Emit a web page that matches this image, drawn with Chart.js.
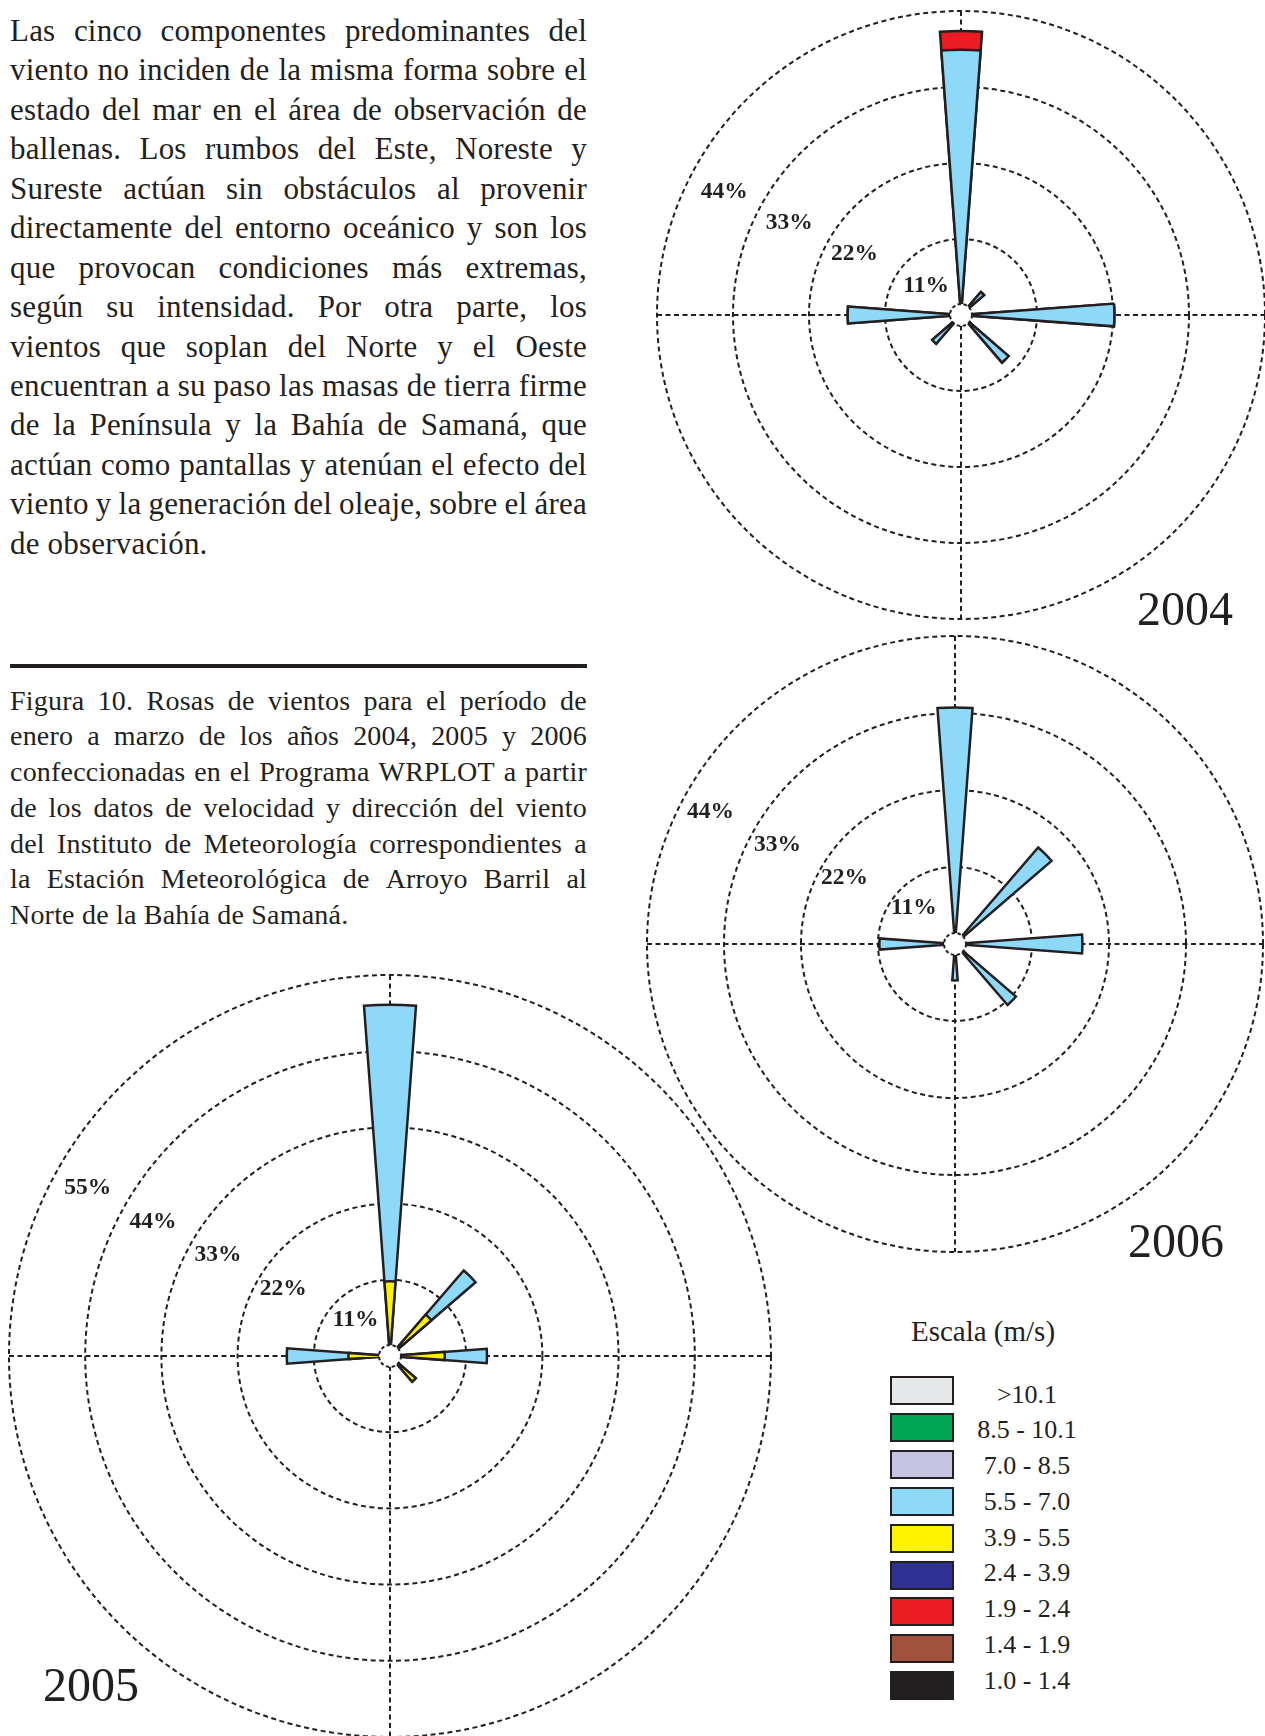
<!DOCTYPE html>
<html lang="es">
<head>
<meta charset="utf-8">
<title>Rosas de vientos 2004 - 2006</title>
<script src="https://cdn.jsdelivr.net/npm/chart.js@4.4.1/dist/chart.umd.min.js"></script>
<style>
  html, body { margin: 0; padding: 0; background: #fff; }
  body {
    position: relative; width: 1265px; height: 1736px; overflow: hidden;
    font-family: 'Liberation Serif', serif; color: #231f20;
  }
  .block { position: absolute; left: 10px; width: 577px; }
  .line { display: flex; justify-content: space-between; white-space: nowrap; }
  .body { top: 11px; font-size: 31px; letter-spacing: 0.2px; }
  .body .line, .body .last { height: 39.45px; line-height: 39.45px; }
  .caption { top: 682.5px; font-size: 28px; letter-spacing: 0.2px; }
  .caption .line, .caption .last { height: 35.8px; line-height: 35.8px; }
  .rule { position: absolute; left: 10px; top: 664px; width: 577px; height: 4px; background: #231f20; }
  canvas { position: absolute; }
  .year { position: absolute; font-size: 48px; line-height: 48px; white-space: nowrap; }
  .legend-title { position: absolute; left: 883px; width: 200px; top: 1317px; text-align: center;
                  font-size: 29px; line-height: 29px; }
  .swatch { position: absolute; left: 890px; width: 64px; height: 29px; box-sizing: border-box;
            border: 2px solid #231f20; }
  .swatch-label { position: absolute; left: 947px; width: 160px; text-align: center;
                  font-size: 26px; line-height: 26px; white-space: nowrap; }
</style>
</head>
<body>

<div class="block body" id="bodyText"></div>
<div class="rule"></div>
<div class="block caption" id="captionText"></div>

<canvas id="rose2004" width="620" height="620" style="left:651px; top:5px;"></canvas>
<canvas id="rose2006" width="628" height="628" style="left:641px; top:630px;"></canvas>
<canvas id="rose2005" width="774" height="774" style="left:3px; top:969px;"></canvas>

<div class="year" style="left:1137px; top:585px;">2004</div>
<div class="year" style="left:1128px; top:1217px;">2006</div>
<div class="year" style="left:43px; top:1661px;">2005</div>

<div class="legend-title">Escala (m/s)</div>
<div id="legend"></div>

<script>
// ---- textos ----
const BODY_LINES = [
  'Las cinco componentes predominantes del',
  'viento no inciden de la misma forma sobre el',
  'estado del mar en el área de observación de',
  'ballenas. Los rumbos del Este, Noreste y',
  'Sureste actúan sin obstáculos al provenir',
  'directamente del entorno oceánico y son los',
  'que provocan condiciones más extremas,',
  'según su intensidad. Por otra parte, los',
  'vientos que soplan del Norte y el Oeste',
  'encuentran a su paso las masas de tierra firme',
  'de la Península y la Bahía de Samaná, que',
  'actúan como pantallas y atenúan el efecto del',
  'viento y la generación del oleaje, sobre el área',
  'de observación.'
];
const CAPTION_LINES = [
  'Figura 10. Rosas de vientos para el período de',
  'enero a marzo de los años 2004, 2005 y 2006',
  'confeccionadas en el Programa WRPLOT a partir',
  'de los datos de velocidad y dirección del viento',
  'del Instituto de Meteorología correspondientes a',
  'la Estación Meteorológica de Arroyo Barril al',
  'Norte de la Bahía de Samaná.'
];

// ---- datos de las rosas ----
const DIRS = ['N', 'NNE', 'NE', 'ENE', 'E', 'ESE', 'SE', 'SSE',
              'S', 'SSW', 'SW', 'WSW', 'W', 'WNW', 'NW', 'NNW'];

const SPEED_CLASSES = ['>10.1', '8.5 - 10.1', '7.0 - 8.5', '5.5 - 7.0', '3.9 - 5.5',
                       '2.4 - 3.9', '1.9 - 2.4', '1.4 - 1.9', '1.0 - 1.4'];
const CLASS_COLORS = ['#e6e7e8', '#00a651', '#c5c3e2', '#8ed8f8', '#fff200',
                      '#2e3192', '#ed1c24', '#a0523d', '#231f20'];

// frecuencia (%) de cada clase por rumbo
const BLUE_2004   = [38.4, 0, 4.4, 0, 22.2, 0, 9.1, 0, 0, 0, 5.5, 0, 16.4, 0, 0, 0];
const RED_2004    = [2.7, 0, 0, 0, 0, 0, 0, 0, 0, 0, 0, 0, 0, 0, 0, 0];
const YELLOW_2005 = [10.8, 0, 7.9, 0, 7.9, 0, 4.9, 0, 0, 0, 0, 0, 6.0, 0, 0, 0];
const BLUE_2005   = [39.9, 0, 8.4, 0, 6.1, 0, 0, 0, 0, 0, 0, 0, 8.9, 0, 0, 0];
const BLUE_2006   = [33.8, 0, 18.2, 0, 18.2, 0, 11.5, 0, 5.2, 0, 0, 0, 10.8, 0, 0, 0];

const RINGS_2004 = [11, 22, 33, 44];
const RINGS_2005 = [11, 22, 33, 44, 55];
const RINGS_2006 = [11, 22, 33, 44];

const INK = '#231f20';
const PETAL = 8.5;          // grados por petalo
const GAP = 22.5 - PETAL;

// ---- texto justificado linea a linea ----
function fillBlock(el, lines) {
  lines.forEach((txt, i) => {
    const div = document.createElement('div');
    if (i === lines.length - 1) {
      div.className = 'last';
      div.textContent = txt;
    } else {
      div.className = 'line';
      txt.split(' ').forEach(w => {
        const s = document.createElement('span');
        s.textContent = w;
        div.appendChild(s);
      });
    }
    el.appendChild(div);
  });
}
fillBlock(document.getElementById('bodyText'), BODY_LINES);
fillBlock(document.getElementById('captionText'), CAPTION_LINES);

// ---- leyenda ----
const legend = document.getElementById('legend');
SPEED_CLASSES.forEach((cls, i) => {
  const box = document.createElement('div');
  box.className = 'swatch';
  box.style.top = (1376 + 36.9 * i) + 'px';
  box.style.background = CLASS_COLORS[i];
  legend.appendChild(box);
  const lab = document.createElement('div');
  lab.className = 'swatch-label';
  lab.style.top = (1381.5 + 35.75 * i) + 'px';
  lab.textContent = cls;
  legend.appendChild(lab);
});

// ---- cruz, hueco central y etiquetas de anillos ----
const roseDecor = {
  id: 'roseDecor',
  beforeDatasetsDraw(chart) {
    const s = chart.scales.r, ctx = chart.ctx;
    const R = s.getDistanceFromCenterForValue(s.max);
    ctx.save();
    ctx.strokeStyle = INK;
    ctx.lineWidth = 2;
    ctx.setLineDash([5, 3.5]);
    ctx.beginPath();
    ctx.moveTo(s.xCenter, s.yCenter - R);
    ctx.lineTo(s.xCenter, s.yCenter + R);
    ctx.moveTo(s.xCenter - R, s.yCenter);
    ctx.lineTo(s.xCenter + R, s.yCenter);
    ctx.stroke();
    ctx.restore();
  },
  afterDatasetsDraw(chart, args, o) {
    const s = chart.scales.r, ctx = chart.ctx;
    ctx.save();
    ctx.beginPath();
    ctx.arc(s.xCenter, s.yCenter, 11, 0, Math.PI * 2);
    ctx.fillStyle = '#fff';
    ctx.fill();
    ctx.setLineDash([3.5, 2.5]);
    ctx.lineWidth = 2;
    ctx.strokeStyle = INK;
    ctx.stroke();

    ctx.setLineDash([]);
    ctx.font = 'bold 23.5px "Liberation Serif"';
    ctx.fillStyle = INK;
    ctx.textAlign = 'left';
    ctx.textBaseline = 'middle';
    s.ticks.forEach((t, i) => {
      if (i === 0) return;
      const r = s.getDistanceFromCenterForValue(t.value);
      const xf = i === 1 ? o.x1 : o.x;
      const yf = i === 1 ? o.y1 : o.y;
      ctx.fillText(t.value + '%', s.xCenter + xf * r, s.yCenter + yf * r);
    });
    ctx.restore();
  }
};

// layers: de dentro hacia fuera; cada dataset es la suma acumulada
function makeRose(id, layers, rings, labelPos) {
  let running = DIRS.map(() => 0);
  const datasets = layers.map(layer => {
    running = running.map((v, i) => v + layer.values[i]);
    return {
      label: layer.cls,
      data: running.flatMap(v => [v, 0]),
      backgroundColor: CLASS_COLORS[SPEED_CLASSES.indexOf(layer.cls)],
      borderColor: INK,
      borderWidth: c => (c.dataIndex % 2 ? 0 : 2.5),
      borderJoinStyle: 'miter',
      angle: c => (c.dataIndex % 2 ? GAP : PETAL),
    };
  });

  return new Chart(document.getElementById(id), {
    type: 'polarArea',
    data: { labels: DIRS.flatMap(d => [d, '']), datasets },
    options: {
      responsive: false,
      animation: false,
      events: [],
      layout: { padding: 6 },
      plugins: {
        legend: { display: false },
        tooltip: { enabled: false },
        roseDecor: labelPos,
      },
      scales: {
        r: {
          min: 0,
          max: rings[rings.length - 1],
          startAngle: -PETAL / 2,
          ticks: { display: false, stepSize: 11 },
          grid: { circular: true, color: INK, lineWidth: 2, borderDash: [5, 3.5] },
          border: { dash: [5, 3.5] },
          angleLines: { display: false },
          pointLabels: { display: false },
        },
      },
    },
    plugins: [roseDecor],
  });
}

makeRose('rose2004',
  [{ cls: '5.5 - 7.0', values: BLUE_2004 }, { cls: '1.9 - 2.4', values: RED_2004 }],
  RINGS_2004, { x: -0.856, y: -0.405, x1: -0.76, y1: -0.38 });

makeRose('rose2006',
  [{ cls: '5.5 - 7.0', values: BLUE_2006 }],
  RINGS_2006, { x: -0.87, y: -0.43, x1: -0.83, y1: -0.47 });

makeRose('rose2005',
  [{ cls: '3.9 - 5.5', values: YELLOW_2005 }, { cls: '5.5 - 7.0', values: BLUE_2005 }],
  RINGS_2005, { x: -0.855, y: -0.44, x1: -0.75, y1: -0.47 });
</script>
</body>
</html>
